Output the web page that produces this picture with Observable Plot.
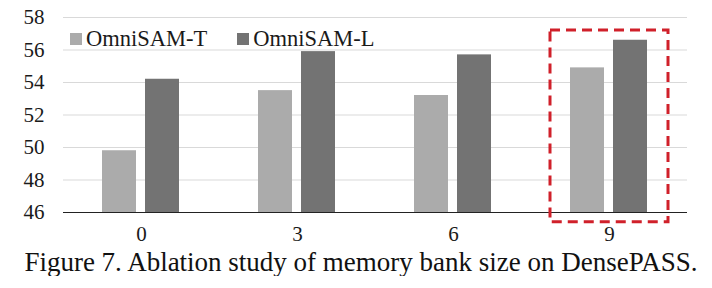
<!DOCTYPE html>
<html><head><meta charset="utf-8">
<script src="https://cdn.jsdelivr.net/npm/d3@7"></script>
<script src="https://cdn.jsdelivr.net/npm/@observablehq/plot@0.6"></script>
<style>
body{margin:0;background:#fff;}
#wrap{position:relative;width:712px;height:250px;}
#wrap #lgbox{position:absolute;left:70px;top:22px;}
#wrap #lgbox .lg-swatches{font-family:"Liberation Serif",serif;font-size:22.5px;line-height:25px;color:#1a1a1a;margin:0;}
#wrap #lgbox .lg-swatch{margin-right:30px;}
#wrap #lgbox .lg-swatch > svg{margin-right:4px;}
#cap{position:relative;left:5px;font-family:"Liberation Serif",serif;font-size:27px;line-height:27px;text-align:center;width:712px;color:#111;margin-top:-1px;white-space:nowrap;}
</style></head><body>
<div id="wrap"></div>
<div id="cap"></div>
<script>
const sizes = ["0", "3", "6", "9"];
const series = ["OmniSAM-T", "OmniSAM-L"];
const tValues = [49.8, 53.5, 53.2, 54.9];
const lValues = [54.2, 55.9, 55.7, 56.6];
const yTicks = [46, 48, 50, 52, 54, 56, 58];
const colors = ["#ababab", "#737373"];
const highlight = ["9"];
const highlightRange = [45.4, 57.2];
const caption = "Figure 7. Ablation study of memory bank size on DensePASS.";

const data = sizes.flatMap((s, i) => [
  {size: s, series: series[0], value: tValues[i]},
  {size: s, series: series[1], value: lValues[i]}
]);

const plot = Plot.plot({
  width: 712, height: 250,
  marginLeft: 62, marginRight: 24, marginTop: 17, marginBottom: 38,
  style: {fontFamily: "Liberation Serif, serif", fontSize: "21px", color: "#1a1a1a", background: "#fff"},
  fx: {domain: sizes, padding: 0, axis: "bottom", tickSize: 0, tickPadding: 14, label: null, fontSize: 21},
  x: {domain: series, axis: null, paddingInner: 0.2045, paddingOuter: 0.88},
  y: {domain: [46, 58], ticks: yTicks, tickSize: 0, tickPadding: 19, label: null, fontSize: 21},
  color: {domain: series, range: colors},
  marks: [
    Plot.gridY(yTicks.slice(1), {stroke: "#d9d9d9", strokeOpacity: 1}),
    Plot.barY(data, {fx: "size", x: "series", y1: yTicks[0], y2: "value", fill: "series"}),
    Plot.ruleY([yTicks[0]], {stroke: "#222", strokeWidth: 1.2}),
    Plot.rect(highlight, {fx: d => d, y1: highlightRange[0], y2: highlightRange[1], insetLeft: 19, insetRight: 19,
      fill: "none", stroke: "#d0202a", strokeWidth: 3, strokeDasharray: "10,6"})
  ]
});
const wrap = document.getElementById("wrap");
wrap.appendChild(plot);
const lg = Plot.legend({color: {domain: series, range: colors}, legend: "swatches", swatchSize: 12, className: "lg"});
const box = document.createElement("div");
box.id = "lgbox";
box.appendChild(lg);
wrap.appendChild(box);
document.getElementById("cap").textContent = caption;
</script>
</body></html>
